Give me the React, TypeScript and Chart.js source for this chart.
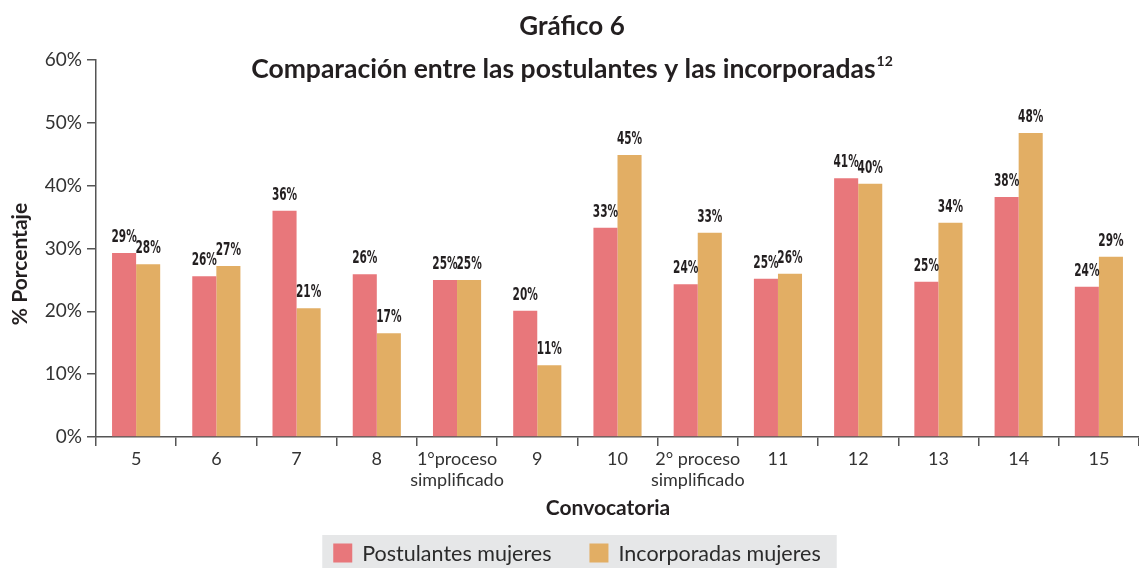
import React, { useEffect, useRef } from "react";
import { Chart, registerables } from "chart.js";

Chart.register(...registerables);

const categories: (string | string[])[] = [
  "5", "6", "7", "8", ["1°proceso", "simplificado"], "9", "10",
  ["2° proceso", "simplificado"], "11", "12", "13", "14", "15",
];
const postulantes = [29.3, 25.6, 36.0, 25.9, 25.0, 20.1, 33.3, 24.3, 25.2, 41.2, 24.7, 38.2, 23.9];
const incorporadas = [27.5, 27.2, 20.5, 16.5, 25.0, 11.4, 44.9, 32.5, 26.0, 40.3, 34.1, 48.4, 28.7];
const seriesNames = ["Postulantes mujeres", "Incorporadas mujeres"];
const seriesColors = ["#E8777B", "#E2AE64"];
const yMin = 0;
const yMax = 60;
const yStep = 10;
const titleText = "Gráfico 6";
const subtitleText = "Comparación entre las postulantes y las incorporadas";
const subtitleSup = "12";
const xTitle = "Convocatoria";
const yTitle = "% Porcentaje";

const FONT = "Lato, 'Open Sans', 'Noto Sans', sans-serif";
const LABEL_FONT = "'Liberation Sans Narrow', 'DejaVu Sans Condensed', 'Liberation Sans', sans-serif";
const DARK = "#231F20";

const overlayPlugin = {
  id: "overlay",
  afterDatasetsDraw(chart: any) {
    const ctx = chart.ctx;
    ctx.save();
    ctx.fillStyle = DARK;
    ctx.textAlign = "center";
    ctx.textBaseline = "bottom";
    ctx.font = `bold 17px ${LABEL_FONT}`;
    chart.data.datasets.forEach((ds: any, di: number) => {
      const meta = chart.getDatasetMeta(di);
      meta.data.forEach((bar: any, i: number) => {
        const v = ds.data[i];
        ctx.save();
        ctx.translate(bar.x, bar.y - 7);
        ctx.scale(0.69, 1);
        ctx.fillText(Math.round(v) + "%", 0, 0);
        ctx.restore();
      });
    });
    ctx.restore();
  },
  afterDraw(chart: any) {
    const ctx = chart.ctx;
    const cx = 572;
    ctx.save();
    ctx.fillStyle = DARK;
    ctx.textBaseline = "middle";
    ctx.textAlign = "center";
    ctx.font = `bold 26px ${FONT}`;
    ctx.fillText(titleText, cx, 27);

    // subtitle with superscript
    ctx.font = `bold 26.5px ${FONT}`;
    const mainW = ctx.measureText(subtitleText).width;
    ctx.font = `bold 14px ${FONT}`;
    const supW = ctx.measureText(subtitleSup).width;
    const total = mainW + 1 + supW;
    const sx = cx - total / 2;
    ctx.textAlign = "left";
    ctx.font = `bold 26.5px ${FONT}`;
    ctx.fillText(subtitleText, sx, 69);
    ctx.font = `bold 14px ${FONT}`;
    ctx.fillText(subtitleSup, sx + mainW + 1, 61);

    // axis titles
    ctx.textAlign = "center";
    ctx.font = `bold 21px ${FONT}`;
    ctx.fillText(xTitle, 608, 508);
    ctx.save();
    ctx.translate(20, 264);
    ctx.rotate(-Math.PI / 2);
    ctx.fillText(yTitle, 0, 0);
    ctx.restore();

    // legend
    ctx.font = `21.5px ${FONT}`;
    const box = 19;
    const gapText = 10;
    const gapItem = 38;
    const widths = seriesNames.map((n) => ctx.measureText(n).width);
    const totalW = widths.reduce((a, w) => a + box + gapText + w, 0) + gapItem * (seriesNames.length - 1);
    const lcx = 577;
    let x = lcx - totalW / 2;
    const ly = 553;
    ctx.fillStyle = "#E6E7E8";
    ctx.fillRect(x - 11, 535, totalW + 11 + 16, 40);
    ctx.textAlign = "left";
    seriesNames.forEach((n, i) => {
      ctx.fillStyle = seriesColors[i];
      ctx.fillRect(x, ly - box / 2, box, box);
      x += box + gapText;
      ctx.fillStyle = "#2b2b2b";
      ctx.fillText(n, x, ly + 1);
      x += widths[i] + gapItem;
    });
    ctx.restore();
  },
};

export default function App() {
  const ref = useRef<HTMLCanvasElement | null>(null);
  useEffect(() => {
    if (!ref.current) return;
    let alive = true;
    const chart = new Chart(ref.current, {
      type: "bar",
      data: {
        labels: categories,
        datasets: [
          {
            label: seriesNames[0],
            data: postulantes,
            backgroundColor: seriesColors[0],
            categoryPercentage: 0.6,
            barPercentage: 1.0,
          },
          {
            label: seriesNames[1],
            data: incorporadas,
            backgroundColor: seriesColors[1],
            categoryPercentage: 0.6,
            barPercentage: 1.0,
          },
        ],
      },
      options: {
        animation: false,
        responsive: true,
        maintainAspectRatio: false,
        layout: { padding: { top: 60, left: 0, right: 0, bottom: 0 } },
        plugins: {
          legend: { display: false },
          title: { display: false },
          tooltip: { enabled: false },
        },
        scales: {
          x: {
            grid: {
              offset: true,
              drawOnChartArea: false,
              drawTicks: true,
              tickLength: 9,
              color: "#555",
              lineWidth: 1.5,
            },
            border: { display: true, color: "#555", width: 1.5 },
            ticks: {
              color: "#333",
              font: { family: FONT, size: 18, lineHeight: 1.15 },
              padding: 3,
              maxRotation: 0,
              autoSkip: false,
            },
            afterFit: (s: any) => {
              s.height = 131;
            },
          },
          y: {
            min: yMin,
            max: yMax,
            grid: {
              drawOnChartArea: false,
              drawTicks: true,
              tickLength: 9,
              color: "#555",
              lineWidth: 1.5,
            },
            border: { display: true, color: "#555", width: 1.5 },
            ticks: {
              stepSize: yStep,
              callback: (v: any) => v + "%",
              color: "#333",
              font: { family: FONT, size: 19 },
              padding: 5,
            },
            afterFit: (s: any) => {
              s.width = 96;
            },
          },
        },
      },
      plugins: [overlayPlugin],
    });
    const fonts = [
      `18px Lato`,
      `bold 24px Lato`,
      `bold 17px 'Liberation Sans Narrow'`,
      `bold 17px 'DejaVu Sans Condensed'`,
    ];
    Promise.all(fonts.map((f) => (document as any).fonts.load(f).catch(() => null))).then(() => {
      if (alive) chart.update();
    });
    return () => {
      alive = false;
      chart.destroy();
    };
  }, []);
  return (
    <div style={{ position: "absolute", left: 0, top: 0, width: 1139, height: 568, background: "#fff" }}>
      <canvas ref={ref} />
    </div>
  );
}
